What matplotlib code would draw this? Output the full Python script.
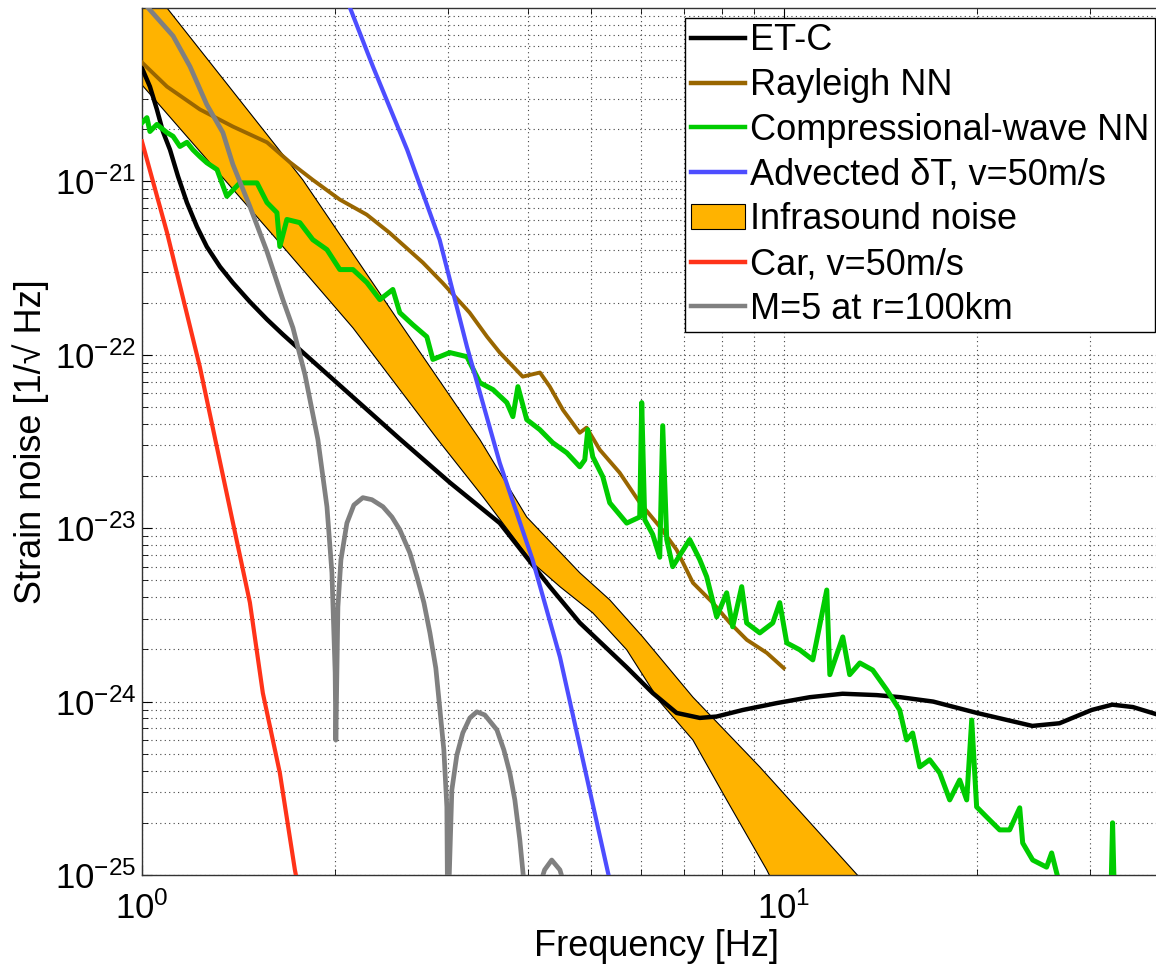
import matplotlib
matplotlib.use("Agg")
import matplotlib.pyplot as plt
from matplotlib.patches import Patch
from matplotlib.lines import Line2D

plt.rcParams['font.family'] = ['Liberation Sans', 'DejaVu Sans']
plt.rcParams['mathtext.fontset'] = 'custom'
plt.rcParams['mathtext.rm'] = 'Liberation Sans'
plt.rcParams['mathtext.default'] = 'regular'

# ET-C sensitivity
etc_f = [1.0, 1.029, 1.055, 1.078, 1.106, 1.138, 1.175, 1.218, 1.262, 1.323, 1.386, 1.473,
         1.566, 1.658, 1.762, 2.52, 3.02, 3.61, 4.32, 4.81, 5.69, 6.25, 6.81, 7.40, 7.86, 8.64,
         9.75, 10.98, 12.35, 13.96, 15.2, 17.1, 20.0, 24.4, 26.9, 30.2, 32.5, 35.0, 40.0]
etc_h = [4.5e-21, 3.52e-21, 2.6e-21, 1.94e-21, 1.52e-21, 1.07e-21, 7.55e-22, 5.48e-22, 4.2e-22,
         3.22e-22, 2.6e-22, 2.02e-22, 1.6e-22, 1.31e-22, 1.07e-22, 3.28e-23, 1.83e-23, 1.07e-23,
         4.6e-24, 2.85e-24, 1.58e-24, 1.12e-24, 8.6e-25, 8.05e-25, 8.2e-25, 8.95e-25, 9.8e-25,
         1.06e-24, 1.11e-24, 1.09e-24, 1.06e-24, 1.0e-24, 8.6e-25, 7.24e-25, 7.5e-25, 8.95e-25,
         9.6e-25, 9.3e-25, 8.0e-25]

# Rayleigh-wave Newtonian noise
ray_f = [1.0, 1.094, 1.231, 1.386, 1.566, 1.70, 1.846, 2.034, 2.24, 2.43, 2.74, 2.94, 3.24,
         3.45, 3.61, 3.92, 4.17, 4.32, 4.53, 4.81, 4.93, 5.17, 5.55, 5.97, 6.41, 6.81, 7.22,
         7.75, 8.24, 8.76, 9.41, 10.0]
ray_h = [4.85e-21, 3.52e-21, 2.6e-21, 2.07e-21, 1.68e-21, 1.29e-21, 1.02e-21, 7.85e-22,
         6.43e-22, 5.06e-22, 3.4e-22, 2.6e-22, 1.75e-22, 1.27e-22, 1.03e-22, 7.48e-23, 7.9e-23,
         6.55e-23, 4.8e-23, 3.55e-23, 3.8e-23, 2.83e-23, 2.09e-23, 1.4e-23, 1.02e-23, 7.5e-24,
         4.84e-24, 3.72e-24, 2.85e-24, 2.27e-24, 1.91e-24, 1.56e-24]

# Compressional-wave Newtonian noise
cmp_f = [1.0, 1.018, 1.029, 1.055, 1.094, 1.118, 1.146, 1.175, 1.201, 1.231, 1.262, 1.309,
         1.356, 1.421, 1.511, 1.566, 1.623, 1.640, 1.682, 1.762, 1.846, 1.942, 2.034, 2.132,
         2.241, 2.348, 2.460, 2.522, 2.643, 2.779, 2.840, 3.018, 3.209, 3.362, 3.523, 3.703,
         3.784, 3.853, 3.977, 4.168, 4.366, 4.592, 4.811, 4.898, 4.951, 5.040, 5.225, 5.357,
         5.693, 5.965, 6.008, 6.073, 6.250, 6.409, 6.478, 6.572, 6.714, 7.136, 7.397, 7.585,
         7.862, 8.149, 8.326, 8.600, 8.755, 9.177, 9.614, 9.858, 10.11, 10.59, 11.10, 11.67,
         11.80, 12.36, 12.67, 13.14, 13.76, 14.47, 15.16, 15.54, 15.88, 16.29, 16.88, 17.50,
         18.14, 18.80, 19.28, 19.63, 19.98, 20.71, 21.70, 22.49, 23.32, 23.57, 24.43, 25.68,
         26.15, 26.91, 30.0, 32.3, 32.54, 32.8, 40.0]
cmp_h = [2.18e-21, 2.33e-21, 1.94e-21, 2.13e-21, 1.91e-21, 1.82e-21, 1.59e-21, 1.68e-21,
         1.52e-21, 1.39e-21, 1.28e-21, 1.17e-21, 8.2e-22, 9.8e-22, 9.8e-22, 7.55e-22, 6.6e-22,
         4.21e-22, 6.03e-22, 5.78e-22, 4.61e-22, 4.04e-22, 3.1e-22, 3.1e-22, 2.61e-22, 2.08e-22,
         2.38e-22, 1.75e-22, 1.49e-22, 1.27e-22, 9.4e-23, 1.03e-22, 9.75e-23, 6.9e-23, 6.3e-23,
         5.3e-23, 4.4e-23, 6.55e-23, 4.23e-23, 3.7e-23, 3.11e-23, 2.72e-23, 2.26e-23, 2.48e-23,
         3.7e-23, 2.58e-23, 1.98e-23, 1.4e-23, 1.07e-23, 1.16e-23, 5.3e-23, 1.12e-23, 9.2e-24,
         6.8e-24, 3.9e-23, 8.6e-24, 6.0e-24, 8.6e-24, 6.6e-24, 5.25e-24, 3.08e-24, 4.24e-24,
         2.7e-24, 4.6e-24, 2.84e-24, 2.49e-24, 2.84e-24, 3.72e-24, 2.18e-24, 1.99e-24, 1.74e-24,
         4.4e-24, 1.43e-24, 2.36e-24, 1.43e-24, 1.67e-24, 1.52e-24, 1.17e-24, 8.95e-25, 6.01e-25,
         6.59e-25, 4.2e-25, 4.62e-25, 3.88e-25, 2.71e-25, 3.53e-25, 2.71e-25, 7.83e-25, 2.47e-25,
         2.16e-25, 1.82e-25, 1.82e-25, 2.44e-25, 1.53e-25, 1.22e-25, 1.11e-25, 1.34e-25, 8.8e-26,
         6e-26, 6e-26, 2.0e-25, 6e-26, 5e-26]

# Advected temperature fluctuations
adv_f = [2.0, 2.11, 2.29, 2.59, 2.91, 3.21, 3.61, 4.06, 4.48, 5.30, 5.5]
adv_h = [1.6e-20, 1.0e-20, 4.6e-21, 1.52e-21, 4.6e-22, 1.11e-22, 2.38e-23, 6.6e-24, 1.81e-24,
         1.11e-25, 6e-26]

# Infrasound noise band
inf_up_f = [1.0, 1.094, 1.781, 2.522, 3.362, 3.977, 4.811, 5.357, 6.03, 7.22, 9.177, 12.81, 14.11]
inf_up_h = [1.58e-20, 1.0e-20, 1.02e-21, 1.53e-22, 3.24e-23, 1.16e-23, 5.53e-24, 3.86e-24,
            2.36e-24, 1.06e-24, 4.2e-25, 1.07e-25, 7.2e-26]
inf_lo_f = [1.0, 1.262, 1.623, 2.132, 2.522, 2.891, 3.398, 4.064, 4.48, 5.04, 5.693, 6.409,
            7.22, 8.149, 9.41, 9.75]
inf_lo_h = [3.6e-21, 1.34e-21, 4.61e-22, 1.43e-22, 6.3e-23, 3.24e-23, 1.52e-23, 6.3e-24, 4.6e-24,
            3.25e-24, 1.99e-24, 1.0e-24, 6.0e-25, 2.71e-25, 1.07e-25, 8.2e-26]

# Car passing at 50 m/s
car_f = [1.0, 1.094, 1.231, 1.473, 1.543, 1.640, 1.731, 1.75]
car_h = [1.7e-21, 5.07e-22, 8.5e-23, 3.72e-24, 1.12e-24, 3.88e-25, 1.07e-25, 8.7e-26]

# M=5 earthquake at 100 km
eq_f = [1.0, 1.018, 1.118, 1.188, 1.262, 1.337, 1.386, 1.473, 1.566, 1.658, 1.719, 1.795,
        1.880, 1.942, 1.977, 2.0, 2.005, 2.02, 2.042, 2.086, 2.139, 2.209, 2.282, 2.374, 2.452,
        2.522, 2.615, 2.682, 2.75, 2.81, 2.87, 2.91, 2.954, 2.986, 2.995, 3.04, 3.095, 3.162,
        3.243, 3.325, 3.422, 3.573, 3.664, 3.743, 3.811, 3.88, 3.95, 4.17, 4.24, 4.35, 4.48,
        4.55]
eq_h = [1.2e-20, 1.02e-20, 6.9e-21, 4.6e-21, 2.77e-21, 1.91e-21, 1.25e-21, 7.16e-22, 3.94e-22,
        2.08e-22, 1.43e-22, 7.67e-23, 3.24e-23, 1.33e-23, 5.53e-24, 1.47e-24, 6.0e-25, 3.52e-24,
        6.58e-24, 1.07e-23, 1.36e-23, 1.5e-23, 1.46e-23, 1.33e-23, 1.16e-23, 9.8e-24, 7.2e-24,
        5.25e-24, 3.72e-24, 2.49e-24, 1.56e-24, 9.3e-25, 5.26e-25, 2.47e-25, 5e-26, 3.09e-25,
        4.92e-25, 6.6e-25, 8.05e-25, 8.73e-25, 8.37e-25, 6.87e-25, 5.26e-25, 3.88e-25, 2.71e-25,
        1.59e-25, 8e-26, 8.8e-26, 1.07e-25, 1.22e-25, 1.07e-25, 8.8e-26]

c_orange = '#ffb300'
c_brown = '#996600'
c_green = '#00cc00'
c_blue = '#4d4dff'
c_red = '#ff3319'
c_gray = '#808080'

fig = plt.figure(figsize=(11.56, 9.72), dpi=100)
# right edge of the axes lies just past the picture, as in the original
ax = fig.add_axes([0.1228, 0.0998, 0.8894, 0.892])

band_f = inf_up_f + inf_lo_f[::-1]
band_h = inf_up_h + inf_lo_h[::-1]
ax.fill(band_f, band_h, facecolor=c_orange, edgecolor='k', linewidth=0.8, zorder=2)

ax.plot(etc_f, etc_h, color='k', lw=3.2, zorder=3)
ax.plot(ray_f, ray_h, color=c_brown, lw=2.8, zorder=3)
ax.plot(cmp_f, cmp_h, color=c_green, lw=3.6, zorder=3)
ax.plot(adv_f, adv_h, color=c_blue, lw=3.0, zorder=3)
ax.plot(car_f, car_h, color=c_red, lw=3.0, zorder=3)
ax.plot(eq_f, eq_h, color=c_gray, lw=3.4, zorder=3)

ax.set_xscale('log')
ax.set_yscale('log')
ax.set_xlim(1, 40)
ax.set_ylim(1e-25, 1e-20)

ax.set_xticks([1, 10])
ax.set_xticklabels([r'$10^{0}$', r'$10^{1}$'])
ax.set_yticks([1e-25, 1e-24, 1e-23, 1e-22, 1e-21])
ax.set_yticklabels([r'$10^{-25}$', r'$10^{-24}$', r'$10^{-23}$', r'$10^{-22}$', r'$10^{-21}$'])
ax.tick_params(which='both', direction='in', top=True, right=True, labelsize=25)
ax.tick_params(which='major', length=7)
ax.tick_params(which='minor', length=4)
ax.tick_params(axis='x', which='major', pad=12)
ax.tick_params(axis='y', which='major', pad=4)
ax.grid(True, which='both', linestyle=(0, (1, 3)), color='#444444', linewidth=0.8)
for s in ax.spines.values():
    s.set_linewidth(1.0)
    s.set_color('#333333')

ax.set_xlabel('Frequency [Hz]', fontsize=26, labelpad=2)
ax.set_ylabel('Strain noise [1/\u221a Hz]', fontsize=26, labelpad=4)

handles = [
    Line2D([], [], color='k', lw=3.2),
    Line2D([], [], color=c_brown, lw=3.2),
    Line2D([], [], color=c_green, lw=3.2),
    Line2D([], [], color=c_blue, lw=3.2),
    Patch(facecolor=c_orange, edgecolor='k', linewidth=0.8),
    Line2D([], [], color=c_red, lw=3.2),
    Line2D([], [], color=c_gray, lw=3.2),
]
labels = ['ET-C', 'Rayleigh NN', 'Compressional-wave NN', 'Advected \u03b4T, v=50m/s',
          'Infrasound noise', 'Car, v=50m/s', 'M=5 at r=100km']
leg = ax.legend(handles, labels, loc='upper right', bbox_to_anchor=(1155 / 1156, 954 / 972),
                bbox_transform=fig.transFigure, fontsize=26, frameon=True, fancybox=False,
                framealpha=1, edgecolor='k', handlelength=1.5, handletextpad=0.15,
                labelspacing=0.27, borderpad=0.15, borderaxespad=0)
leg.get_frame().set_linewidth(1.0)

fig.savefig('out.png', dpi=100)
